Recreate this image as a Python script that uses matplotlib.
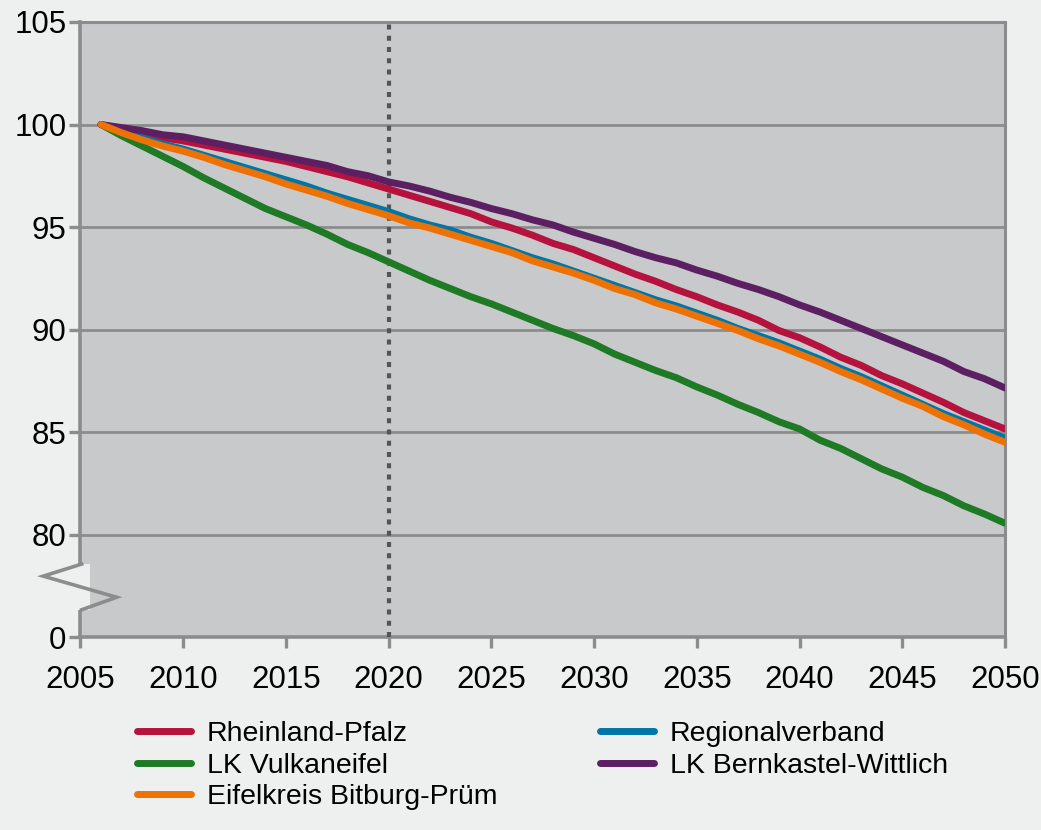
import numpy as np
import matplotlib
matplotlib.use('Agg')
import matplotlib.pyplot as plt
from matplotlib.patches import Rectangle

plt.rcParams['font.family'] = ['Liberation Sans', 'DejaVu Sans']

years = list(range(2006, 2051))

rheinland_pfalz = [100.0, 99.75, 99.55, 99.35, 99.2, 99.0, 98.8, 98.6, 98.4, 98.2,
                   97.95, 97.7, 97.45, 97.15, 96.85, 96.55, 96.25, 95.95, 95.65, 95.25,
                   94.95, 94.6, 94.2, 93.9, 93.5, 93.1, 92.7, 92.35, 91.95, 91.6,
                   91.2, 90.85, 90.45, 89.95, 89.6, 89.15, 88.65, 88.25, 87.75, 87.35,
                   86.9, 86.45, 85.95, 85.55, 85.15]
regionalverband = [100.0, 99.65, 99.35, 99.05, 98.8, 98.5, 98.2, 97.9, 97.6, 97.3,
                   97.0, 96.65, 96.35, 96.05, 95.75, 95.4, 95.1, 94.85, 94.5, 94.2,
                   93.85, 93.5, 93.2, 92.85, 92.5, 92.15, 91.8, 91.45, 91.15, 90.8,
                   90.45, 90.05, 89.7, 89.35, 88.95, 88.55, 88.1, 87.7, 87.25, 86.8,
                   86.35, 85.9, 85.5, 85.1, 84.7]
vulkaneifel = [100.0, 99.45, 98.95, 98.45, 97.95, 97.4, 96.9, 96.4, 95.9, 95.5,
               95.1, 94.65, 94.15, 93.75, 93.3, 92.85, 92.4, 92.0, 91.6, 91.25,
               90.85, 90.45, 90.05, 89.7, 89.3, 88.8, 88.4, 88.0, 87.65, 87.2,
               86.8, 86.35, 85.95, 85.5, 85.15, 84.6, 84.2, 83.7, 83.2, 82.8,
               82.3, 81.9, 81.4, 81.0, 80.55]
bernkastel_wittlich = [100.0, 99.85, 99.7, 99.5, 99.4, 99.2, 99.0, 98.8, 98.6, 98.4,
                       98.2, 98.0, 97.7, 97.5, 97.2, 97.0, 96.75, 96.45, 96.2, 95.9,
                       95.65, 95.35, 95.1, 94.75, 94.45, 94.15, 93.8, 93.5, 93.25, 92.9,
                       92.6, 92.25, 91.95, 91.6, 91.2, 90.85, 90.45, 90.05, 89.65, 89.25,
                       88.85, 88.45, 87.95, 87.6, 87.15]
bitburg_pruem = [100.0, 99.6, 99.25, 98.95, 98.7, 98.4, 98.05, 97.75, 97.45, 97.1,
                 96.8, 96.5, 96.15, 95.85, 95.55, 95.2, 94.95, 94.65, 94.35, 94.05,
                 93.75, 93.35, 93.05, 92.75, 92.4, 92.0, 91.7, 91.3, 91.0, 90.65,
                 90.3, 89.95, 89.55, 89.2, 88.8, 88.4, 87.95, 87.55, 87.1, 86.65,
                 86.25, 85.75, 85.35, 84.9, 84.5]

x_ticks = list(range(2005, 2051, 5))
y_ticks = [75, 80, 85, 90, 95, 100, 105]
y_labels = ['0', '80', '85', '90', '95', '100', '105']

bg = '#EEF0EF'
grey = '#8C8C8C'

fig = plt.figure(figsize=(10.41, 8.3), dpi=100, facecolor=bg)
ax = fig.add_axes([0.0773, 0.2325, 0.8881, 0.741])
ax.set_facecolor('#C8C9CB')

series = [
    ('Rheinland-Pfalz', rheinland_pfalz, '#B5123E'),
    ('Regionalverband', regionalverband, '#0075A8'),
    ('LK Vulkaneifel', vulkaneifel, '#1E7A25'),
    ('LK Bernkastel-Wittlich', bernkastel_wittlich, '#5B1F62'),
    ('Eifelkreis Bitburg-Prüm', bitburg_pruem, '#EE7203'),
]
lines = {}
for name, vals, col in series:
    l, = ax.plot(years, vals, color=col, lw=5, solid_capstyle='round', label=name, zorder=3)
    lines[name] = l

ax.axvline(2020, color='#555555', lw=3, linestyle=(0, (1.2, 1.5)), zorder=2.8)

ax.set_xlim(2005, 2050)
ax.set_ylim(75, 105)
ax.set_xticks(x_ticks)
ax.set_yticks(y_ticks)
ax.set_yticklabels(y_labels)
ax.yaxis.grid(True, color=grey, lw=2)
ax.set_axisbelow(True)
for s in ax.spines.values():
    s.set_color(grey)
    s.set_linewidth(2.2)
ax.spines['left'].set_linewidth(2.6)
ax.spines['bottom'].set_linewidth(2.6)
ax.tick_params(axis='both', colors=grey, length=8, width=2.4, labelsize=22.5, labelcolor='black')
ax.tick_params(axis='x', pad=12)
ax.tick_params(axis='y', pad=2)

# axis break marker
ax.add_patch(Rectangle((2004.85, 76.33), 0.6, 78.56 - 76.33, facecolor=bg, edgecolor='none',
                       clip_on=False, zorder=4))
ax.plot([2005.06, 2003.19, 2006.76, 2005.06], [78.56, 77.97, 76.94, 76.33], color=grey,
        lw=2.6, clip_on=False, zorder=5, solid_joinstyle='miter')

order = ['Rheinland-Pfalz', 'LK Vulkaneifel', 'Eifelkreis Bitburg-Prüm',
         'Regionalverband', 'LK Bernkastel-Wittlich']
fig.legend([lines[n] for n in order], order, loc='upper left',
           bbox_to_anchor=(0.1316, 0.1313), ncol=2, frameon=False, fontsize=20.5,
           handlelength=1.9, handletextpad=0.55, columnspacing=3.6, labelspacing=0.2,
           borderpad=0, borderaxespad=0)

fig.savefig('out.png', dpi=100, facecolor=bg)
